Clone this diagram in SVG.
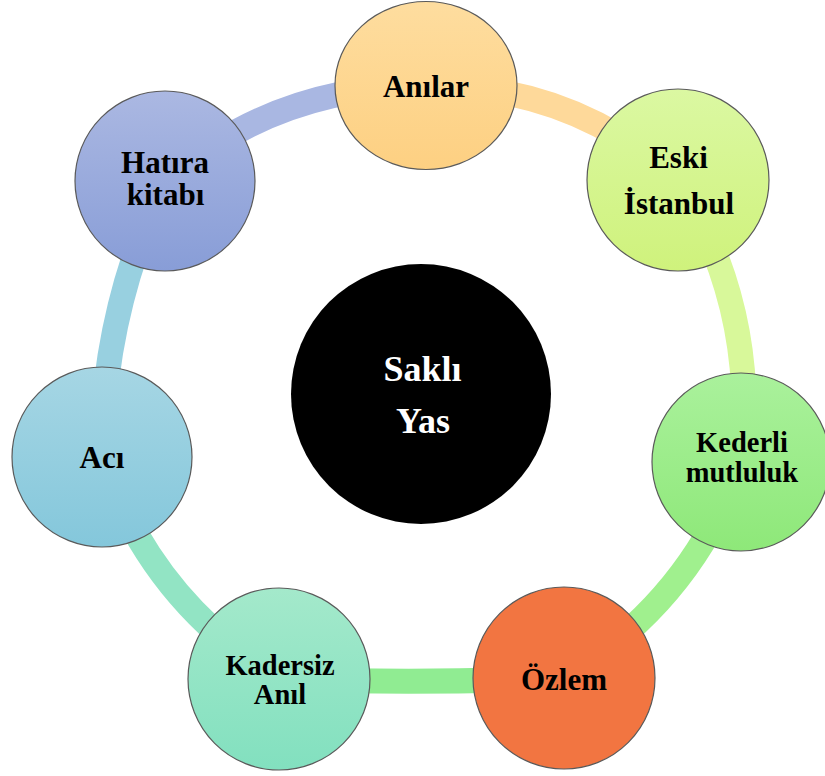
<svg xmlns="http://www.w3.org/2000/svg" width="825" height="776" viewBox="0 0 825 776">
<defs>
<linearGradient id="gAn" x1="0" y1="0" x2="0" y2="1"><stop offset="0" stop-color="#fedd9f"/><stop offset="1" stop-color="#fdd082"/></linearGradient>
<linearGradient id="gEs" x1="0" y1="0" x2="0" y2="1"><stop offset="0" stop-color="#dbf8a2"/><stop offset="1" stop-color="#cff27c"/></linearGradient>
<linearGradient id="gKe" x1="0" y1="0" x2="0" y2="1"><stop offset="0" stop-color="#aaf19c"/><stop offset="1" stop-color="#8ee879"/></linearGradient>
<linearGradient id="gKa" x1="0" y1="0" x2="0" y2="1"><stop offset="0" stop-color="#a4e9cb"/><stop offset="1" stop-color="#82e0bf"/></linearGradient>
<linearGradient id="gAc" x1="0" y1="0" x2="0" y2="1"><stop offset="0" stop-color="#a6d6e4"/><stop offset="1" stop-color="#84c7db"/></linearGradient>
<linearGradient id="gHa" x1="0" y1="0" x2="0" y2="1"><stop offset="0" stop-color="#abb8e2"/><stop offset="1" stop-color="#889dd7"/></linearGradient>
</defs>
<style>
.band{fill:none;stroke-width:25;}
.node{stroke:#5a5a5a;stroke-width:1.2;}
.lbl{font-family:"Liberation Serif","Times New Roman",serif;font-weight:bold;fill:#000;text-anchor:middle;}
.c{fill:#fff;}
</style>
<g id="connectors">
<path class="band" stroke="#a9b7e2" d="M165,181 Q277.7,84.7 426,86"/>
<path class="band" stroke="#fed99a" d="M426,86 Q570.4,83.6 678,180"/>
<path class="band" stroke="#d8f89a" d="M678,180 Q758.3,310 741,462"/>
<path class="band" stroke="#a0f08e" d="M741,462 Q691,602 564,678"/>
<path class="band" stroke="#90ec92" d="M564,678 Q421.5,684 279,679"/>
<path class="band" stroke="#92e4c4" d="M279,679 Q150,600 102,457"/>
<path class="band" stroke="#98d0e0" d="M102,457 Q102.3,311.8 165,181"/>
</g>
<g id="center">
<circle cx="421" cy="394" r="130" fill="#000"/>
<text class="lbl c" x="422.5" y="381" font-size="36">Saklı</text>
<text class="lbl c" x="423" y="433" font-size="36">Yas</text>
</g>
<g id="anilar">
<ellipse class="node" cx="426" cy="85.5" rx="91" ry="84" fill="url(#gAn)"/>
<text class="lbl" x="426" y="97" font-size="31">Anılar</text>
</g>
<g id="eski-istanbul">
<circle class="node" cx="678" cy="180" r="91" fill="url(#gEs)"/>
<text class="lbl" x="678.5" y="168" font-size="31">Eski</text>
<text class="lbl" x="679" y="214" font-size="31">İstanbul</text>
</g>
<g id="kederli-mutluluk">
<circle class="node" cx="741" cy="462" r="89" fill="url(#gKe)"/>
<text class="lbl" x="742" y="452" font-size="28.5">Kederli</text>
<text class="lbl" x="742" y="482" font-size="28.5">mutluluk</text>
</g>
<g id="ozlem">
<circle class="node" cx="564" cy="678" r="91" fill="#f27541"/>
<text class="lbl" x="564" y="690" font-size="31">Özlem</text>
</g>
<g id="kadersiz-anil">
<circle class="node" cx="279" cy="679" r="91" fill="url(#gKa)"/>
<text class="lbl" x="280" y="675" font-size="28.5">Kadersiz</text>
<text class="lbl" x="280" y="704" font-size="28.5">Anıl</text>
</g>
<g id="aci">
<circle class="node" cx="102" cy="457" r="90" fill="url(#gAc)"/>
<text class="lbl" x="102" y="468" font-size="31">Acı</text>
</g>
<g id="hatira-kitabi">
<circle class="node" cx="165" cy="181" r="90" fill="url(#gHa)"/>
<text class="lbl" x="165" y="173" font-size="31">Hatıra</text>
<text class="lbl" x="165.5" y="205" font-size="31">kitabı</text>
</g>
</svg>
